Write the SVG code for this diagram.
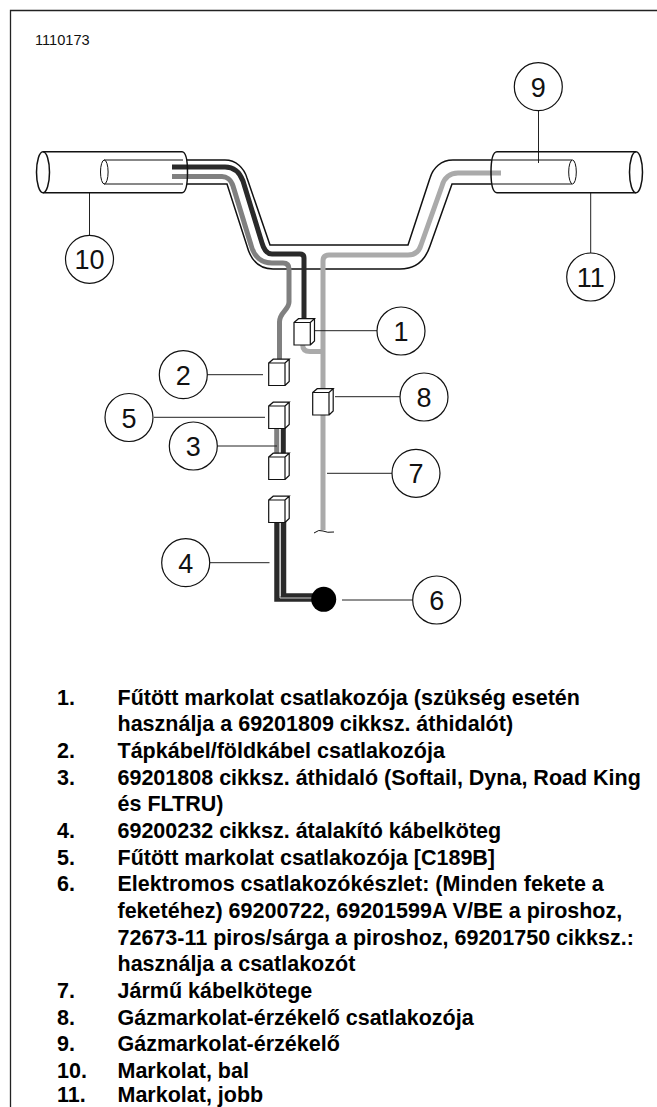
<svg xmlns="http://www.w3.org/2000/svg" width="657" height="1107" viewBox="0 0 657 1107">
<style>
text{font-family:"Liberation Sans",Arial,sans-serif;fill:#111}
.o{fill:none;stroke:#111;stroke-width:1.500}
.t{fill:none;stroke:#111;stroke-width:1}
.l{fill:none;stroke:#222;stroke-width:1}
.b{fill:none;stroke:#2a2a2a;stroke-width:5;stroke-linejoin:round}
.g{fill:none;stroke:#808080;stroke-width:5;stroke-linejoin:round}
.a{fill:none;stroke:#aaa;stroke-width:5;stroke-linejoin:round}
.c{fill:#fff;stroke:#111;stroke-width:1.2}
.n{fill:#fff;stroke:#111;stroke-width:1.2}
.v{font-size:27px;text-anchor:middle}
.h{font-size:21.500px;font-weight:bold;fill:#000}
</style>
<defs>
<g id="box"><path class="c" d="M0 0V22.500H16.300V0ZM0 0L4.500 -3.800H20.500L16.300 0M20.500 -3.800V18.500L16.300 22.500"/></g>
</defs>
<path d="M10.500 1107V10.500H657" fill="none" stroke="#222" stroke-width="1.300"/>
<text x="35" y="45" font-size="14.600">1110173</text>

<g id="connectors">
<path class="o" d="M187 160H225C236 160 244 168 247 178L270 245H408L430 178C433 168 441 160 453 160H491"/>
<path class="o" d="M187 184H227L247 246C251 261 260 269 273 269H400C415 269 425 261 430 246L452 184H491"/>
<path class="b" d="M172 167H225C234 167 240 173 243 181L262 243C264 250 267 254 272 254H300Q304 254 304 258V322"/>
<path class="g" d="M172 176.500H222C226 176.500 231 179 233 186L251 245C254 257 262 263 272 263H283Q289 263 289 269V302C289 310 279.500 312 279.500 322V363"/>
<path class="a" d="M501 173H458C450 173 444 178 442 186L421 245C419 252 414 255 408 255H329Q323 255 323 261V530"/>
<path class="a" d="M302.700 345Q302.700 351.500 310 351.500H323"/>
<path class="g" d="M276.700 428V454"/>
<path class="b" d="M283.300 428V454"/>
<path d="M277 522V599H313" fill="none" stroke="#2a2a2a" stroke-width="5.500"/>
<path d="M283.500 522V596H313" fill="none" stroke="#2a2a2a" stroke-width="5.500" stroke-linejoin="round"/>
<path d="M280 522V598H313" fill="none" stroke="#ccc" stroke-width="1"/>
<path class="t" d="M314 533Q319 529 323 531T334 532"/>
<path class="l" d="M89.500 193V235.500M538.500 110.500V163M590.700 193V253M315 330.700H377M154 417.300H265M217 446H277M207 374.700H263M335 396.700H400M327 473.300H392M210 562.700H269.500M342 600H413"/>
</g>

<g id="grip-left">
<path class="o" d="M43 151.700H182Q187.500 152 187.500 172.200T182 192.700H43"/>
<ellipse class="o" cx="43" cy="172.200" rx="6.500" ry="20.500"/>
<path class="t" d="M104 160H183M104 184H183"/>
<ellipse class="t" cx="104.300" cy="172" rx="3.800" ry="12"/>
</g>
<g id="grip-right">
<path class="o" d="M636 151.700H497Q491 152 491 172.200T497 192.700H636"/>
<ellipse class="o" cx="636" cy="172.200" rx="6.500" ry="20.500"/>
<path class="t" d="M491 160H572M491 184H572"/>
<ellipse class="t" cx="572.500" cy="172" rx="3.800" ry="12"/>
</g>
<g id="connector-1"><use href="#box" x="294" y="322.500"/></g>
<g id="connector-2"><use href="#box" x="268.700" y="363"/></g>
<g id="connector-5"><use href="#box" x="268.700" y="406"/></g>
<g id="connector-3"><use href="#box" x="268.700" y="457"/></g>
<g id="connector-4"><use href="#box" x="268.700" y="500"/></g>
<g id="connector-8"><use href="#box" x="312.700" y="392.500"/></g>
<g id="ground"><circle cx="323.700" cy="599.300" r="12.500" fill="#000"/></g>

<g id="n1"><circle class="n" cx="401" cy="331" r="24"/><text class="v" x="401" y="341">1</text></g>
<g id="n2"><circle class="n" cx="183.300" cy="374.700" r="24"/><text class="v" x="183.300" y="384.500">2</text></g>
<g id="n3"><circle class="n" cx="193.300" cy="446" r="24"/><text class="v" x="193.300" y="456">3</text></g>
<g id="n4"><circle class="n" cx="185.700" cy="562.700" r="24"/><text class="v" x="185.700" y="572.500">4</text></g>
<g id="n5"><circle class="n" cx="129" cy="417.500" r="24"/><text class="v" x="129" y="427.500">5</text></g>
<g id="n6"><circle class="n" cx="436.700" cy="600" r="24"/><text class="v" x="436.700" y="610">6</text></g>
<g id="n7"><circle class="n" cx="416" cy="473.300" r="24"/><text class="v" x="416" y="483">7</text></g>
<g id="n8"><circle class="n" cx="424" cy="397" r="24"/><text class="v" x="424" y="407">8</text></g>
<g id="n9"><circle class="n" cx="538.300" cy="86.700" r="24"/><text class="v" x="538.300" y="96.500">9</text></g>
<g id="n10"><circle class="n" cx="89.500" cy="259.300" r="24"/><text class="v" x="89.500" y="269">10</text></g>
<g id="n11"><circle class="n" cx="590.700" cy="277" r="24"/><text class="v" x="590.700" y="287">11</text></g>

<g id="legend">
<text class="h" x="57" y="704.700">1.</text><text class="h" x="117.500" y="704.700">Fűtött markolat csatlakozója (szükség esetén</text>
<text class="h" x="117.500" y="731.300">használja a 69201809 cikksz. áthidalót)</text>
<text class="h" x="57" y="758">2.</text><text class="h" x="117.500" y="758">Tápkábel/földkábel csatlakozója</text>
<text class="h" x="57" y="784.700">3.</text><text class="h" x="117.500" y="784.700">69201808 cikksz. áthidaló (Softail, Dyna, Road King</text>
<text class="h" x="117.500" y="811.300">és FLTRU)</text>
<text class="h" x="57" y="838">4.</text><text class="h" x="117.500" y="838">69200232 cikksz. átalakító kábelköteg</text>
<text class="h" x="57" y="864.700">5.</text><text class="h" x="117.500" y="864.700">Fűtött markolat csatlakozója [C189B]</text>
<text class="h" x="57" y="891.300">6.</text><text class="h" x="117.500" y="891.300">Elektromos csatlakozókészlet: (Minden fekete a</text>
<text class="h" x="117.500" y="918">feketéhez) 69200722, 69201599A V/BE a piroshoz,</text>
<text class="h" x="117.500" y="944.700">72673-11 piros/sárga a piroshoz, 69201750 cikksz.:</text>
<text class="h" x="117.500" y="971.300">használja a csatlakozót</text>
<text class="h" x="57" y="998">7.</text><text class="h" x="117.500" y="998">Jármű kábelkötege</text>
<text class="h" x="57" y="1024.700">8.</text><text class="h" x="117.500" y="1024.700">Gázmarkolat-érzékelő csatlakozója</text>
<text class="h" x="57" y="1051.300">9.</text><text class="h" x="117.500" y="1051.300">Gázmarkolat-érzékelő</text>
<text class="h" x="57" y="1077.500">10.</text><text class="h" x="117.500" y="1077.500">Markolat, bal</text>
<text class="h" x="57" y="1102">11.</text><text class="h" x="117.500" y="1102">Markolat, jobb</text>
</g>
</svg>
